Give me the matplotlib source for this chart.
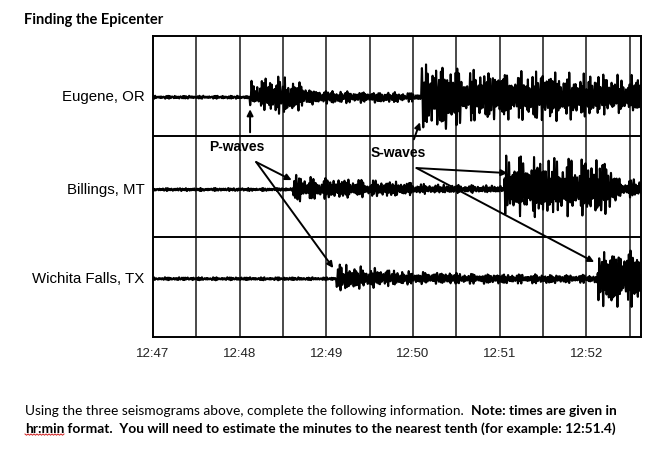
import numpy as np
import matplotlib
matplotlib.use('Agg')
import matplotlib.pyplot as plt

# --- data (time = minutes after 12:47) ---
tick_labels = ['12:47', '12:48', '12:49', '12:50', '12:51', '12:52']
tick_minutes = [0, 1, 2, 3, 4, 5]
stations = ['Eugene, OR', 'Billings, MT', 'Wichita Falls, TX']
p_arrival = [1.12, 1.62, 2.12]
s_arrival = [3.10, 4.06, 5.14]

# trace envelopes: knot times, amplitude above / below the baseline (% of a row)
eug_t = [0.00, 1.11, 1.12, 1.26, 1.40, 1.52, 1.70, 1.85, 2.20, 2.85, 3.09, 3.10, 3.45, 3.57, 3.95, 4.33, 4.72, 5.10, 5.63]
eug_up = [1.5, 1.5, 18, 20, 22, 20, 16, 8, 6, 5, 4, 36, 34, 28, 27, 26, 25, 23, 22]
eug_lo = [1.5, 1.5, 8, 12, 17, 16, 13, 7, 6, 5, 4, 30, 32, 24, 22, 23, 24, 18, 15]

bil_t = [0.00, 1.61, 1.62, 1.85, 2.30, 2.80, 3.20, 4.05, 4.06, 4.50, 4.95, 5.28, 5.35, 5.63]
bil_up = [1.5, 1.5, 16, 12, 10, 8, 5, 4, 34, 32, 30, 30, 11, 10]
bil_lo = [1.5, 1.5, 13, 10, 8, 7, 4, 3, 26, 28, 26, 26, 8, 8]

wic_t = [0.00, 2.11, 2.12, 2.45, 2.85, 3.20, 3.80, 5.13, 5.14, 5.63]
wic_up = [1.5, 1.5, 15, 12, 8, 7, 5, 4, 32, 33]
wic_lo = [1.5, 1.5, 12, 10, 6, 5, 5, 4, 28, 28]

envelopes = [(eug_t, eug_up, eug_lo), (bil_t, bil_up, bil_lo), (wic_t, wic_up, wic_lo)]
baseline = [0.61, 0.53, 0.42]   # position of the trace inside its row
t_end = 5.63

fig = plt.figure(figsize=(6.64, 4.58), dpi=100)
ax = fig.add_axes([153 / 664, 1 - 337 / 458, 488 / 664, 301 / 458])
ax.set_xlim(0, t_end)
ax.set_ylim(3, 0)

# grid: half-minute columns, one row per station
for x in np.arange(0.5, 5.51, 0.5):
    ax.axvline(x, color='#4a4a4a', lw=1.4, zorder=1)
for y in [1, 2]:
    ax.axhline(y, color='black', lw=1.4, zorder=1)
for s in ax.spines.values():
    s.set_linewidth(1.4)

# seismogram traces
t = np.linspace(0, t_end, 6000)
for i, (kt, up, lo) in enumerate(envelopes):
    ph = 1.7 * i
    carrier = np.sin(2 * np.pi * t / 0.024 + ph + 1.3 * np.sin(2 * np.pi * t / 0.09))
    mod = 0.3 + 0.7 * np.abs(np.sin(2 * np.pi * t / 0.11 + ph)
                             * np.cos(2 * np.pi * t / 0.37 + 2 * ph)
                             + 0.35 * np.sin(2 * np.pi * t / 0.053 + 3 * ph))
    c = carrier * np.clip(mod, 0, 1)
    a_up = np.interp(t, kt, up) / 100
    a_lo = np.interp(t, kt, lo) / 100
    y = i + baseline[i] - np.where(c > 0, c * a_up, c * a_lo)
    ax.plot(t, y, color='black', lw=1.5, zorder=3)
    ax.annotate(stations[i], xy=(0, i + baseline[i]), xytext=(-6, 0),
                textcoords='offset points', ha='right', va='center',
                fontsize=10.8, family='Liberation Sans', annotation_clip=False)

ax.set_xticks(tick_minutes)
ax.set_xticklabels(tick_labels, family='Liberation Sans', fontsize=9.5, color='#222222')
ax.tick_params(axis='x', length=0, pad=8)
ax.set_yticks([])

arrow = dict(arrowstyle='-|>', color='black', lw=1.4, mutation_scale=9, shrinkA=0, shrinkB=0)

# arrows below the Eugene arrivals
ax.annotate('', xy=(p_arrival[0], 0.73), xytext=(p_arrival[0], 0.96), arrowprops=arrow)
ax.annotate('', xy=(s_arrival[0] - 0.02, 0.86), xytext=(s_arrival[0] - 0.09, 1.03), arrowprops=arrow)

# labels with arrows to the other stations
ax.text(0.97, 1.107, 'P-waves', ha='center', va='center', fontsize=10,
        fontweight='bold', family='Liberation Sans')
ax.text(2.83, 1.167, 'S-waves', ha='center', va='center', fontsize=10,
        fontweight='bold', family='Liberation Sans')
ax.annotate('', xy=(p_arrival[1] - 0.02, 1.436), xytext=(1.19, 1.256), arrowprops=arrow)
ax.annotate('', xy=(p_arrival[2] - 0.04, 2.313), xytext=(1.19, 1.256), arrowprops=arrow)
ax.annotate('', xy=(s_arrival[1] + 0.03, 1.366), xytext=(3.04, 1.316), arrowprops=arrow)
ax.annotate('', xy=(s_arrival[2] - 0.05, 2.253), xytext=(3.04, 1.316), arrowprops=arrow)

# title and instructions
fig.text(24 / 664, 1 - 20 / 458, 'Finding the Epicenter', family='Lato',
         fontweight='bold', fontsize=10.5, va='center')

t1 = fig.text(25 / 664, 1 - 417 / 458,
              'Using the three seismograms above, complete the following information.  ',
              family='Lato', fontsize=9.9, va='bottom')
plt.annotate('Note: times are given in', xy=(1, 0), xycoords=t1, va='bottom',
             family='Lato', fontsize=9.9, fontweight='bold')
t3 = fig.text(25 / 664, 1 - 435 / 458, 'hr:min', family='Lato', fontsize=9.9,
              fontweight='bold', va='bottom')
plt.annotate(' format.  You will need to estimate the minutes to the nearest tenth (for example: 12:51.4)',
             xy=(1, 0), xycoords=t3, va='bottom', family='Lato', fontsize=9.9, fontweight='bold')

# red spell-check squiggle under "hr:min"
fig.canvas.draw()
bb = t3.get_window_extent()
xs = np.arange(bb.x0, bb.x1, 1.5)
ys = bb.y0 + 1 + np.where(np.arange(len(xs)) % 2 == 0, 0, -1.2)
pts = fig.transFigure.inverted().transform(np.column_stack([xs, ys]))
fig.add_artist(plt.Line2D(pts[:, 0], pts[:, 1], color='#d02020', lw=0.7))

fig.savefig('out.png', dpi=100)
